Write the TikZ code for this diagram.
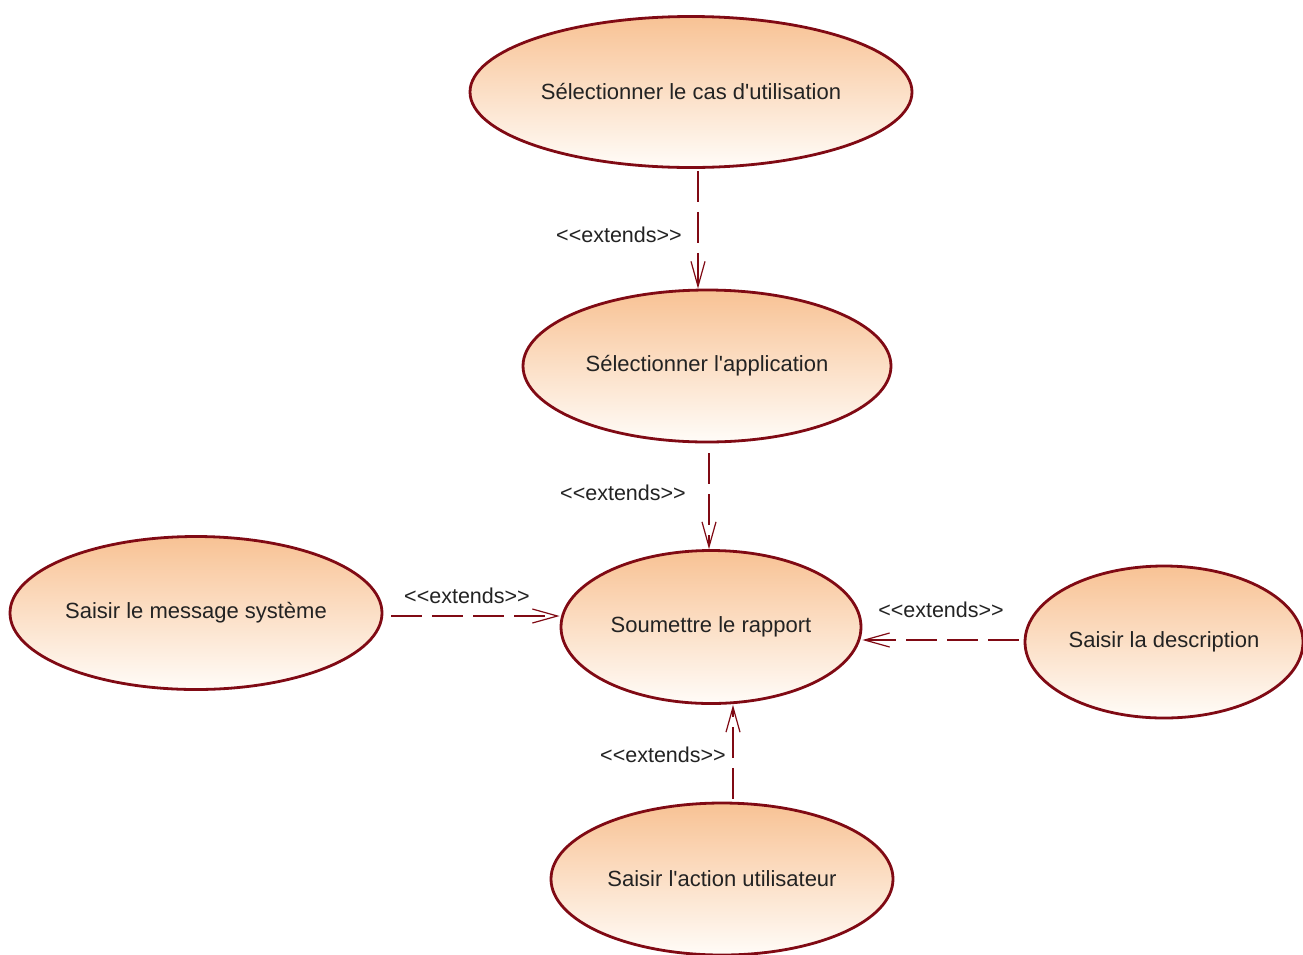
\documentclass[tikz,border=0pt]{standalone}
\usepackage{fontspec}
\setmainfont{Liberation Sans}[Ligatures=TeXOff]
\usetikzlibrary{shapes.geometric,arrows.meta}
\definecolor{bord}{RGB}{128,10,20}
\definecolor{topc}{RGB}{248,194,148}
\definecolor{botc}{RGB}{255,252,248}
\definecolor{txt}{RGB}{35,35,35}
\begin{document}
\begin{tikzpicture}[x=1pt,y=-1pt,
  uc/.style={ellipse,draw=bord,line width=2.8pt,top color=topc,bottom color=botc,
    inner sep=0pt,text=txt,font=\fontsize{22}{26}\selectfont},
  ext/.style={draw=bord,line width=2pt,dash pattern=on 31pt off 10pt,
    -{Straight Barb[length=25pt,width=14pt,line width=1.2pt]}},
  lbl/.style={text=txt,font=\fontsize{21.5}{25}\selectfont,inner sep=0pt}]
\useasboundingbox (0,0) rectangle (1303,954);
\fill[white] (0,0) rectangle (1303,954);
\node[uc,minimum width=442pt,minimum height=151pt] (top) at (691,92) {Sélectionner le cas d'utilisation};
\node[uc,minimum width=368pt,minimum height=152pt] (app) at (707,366) {Sélectionner l'application};
\node[uc,minimum width=300pt,minimum height=153pt] (sou) at (711,627) {Soumettre le rapport};
\node[uc,minimum width=372pt,minimum height=153pt] (msg) at (196,613) {Saisir le message système};
\node[uc,minimum width=278pt,minimum height=152pt] (des) at (1164,642) {Saisir la description};
\node[uc,minimum width=342pt,minimum height=152pt] (act) at (722,879) {Saisir l'action utilisateur};
% connectors
\draw[ext,shorten <=2pt] ([xshift=7pt]top.south) -- ([xshift=7pt]top.south |- app.north);
\draw[ext,shorten <=10pt] ([xshift=2pt]app.south) -- ([xshift=2pt]app.south |- sou.north);
\draw[ext,shorten <=8pt] ([yshift=-3pt]msg.east) -- ([yshift=-3pt]msg.east -| sou.west);
\draw[ext,shorten <=5pt] ([yshift=2pt]des.west) -- ([yshift=2pt]des.west -| sou.east);
\draw[ext,shorten <=3pt] ([xshift=11pt]act.north) -- ([xshift=11pt]act.north |- sou.south);
% labels
\node[lbl] (l1) at (619,235) {<{}<extends>{}>};
\node[lbl] (l2) at (623,493) {<{}<extends>{}>};
\node[lbl] (l3) at (467,596) {<{}<extends>{}>};
\node[lbl] (l4) at (941,610) {<{}<extends>{}>};
\node[lbl] (l5) at (663,755) {<{}<extends>{}>};
\end{tikzpicture}
\end{document}
